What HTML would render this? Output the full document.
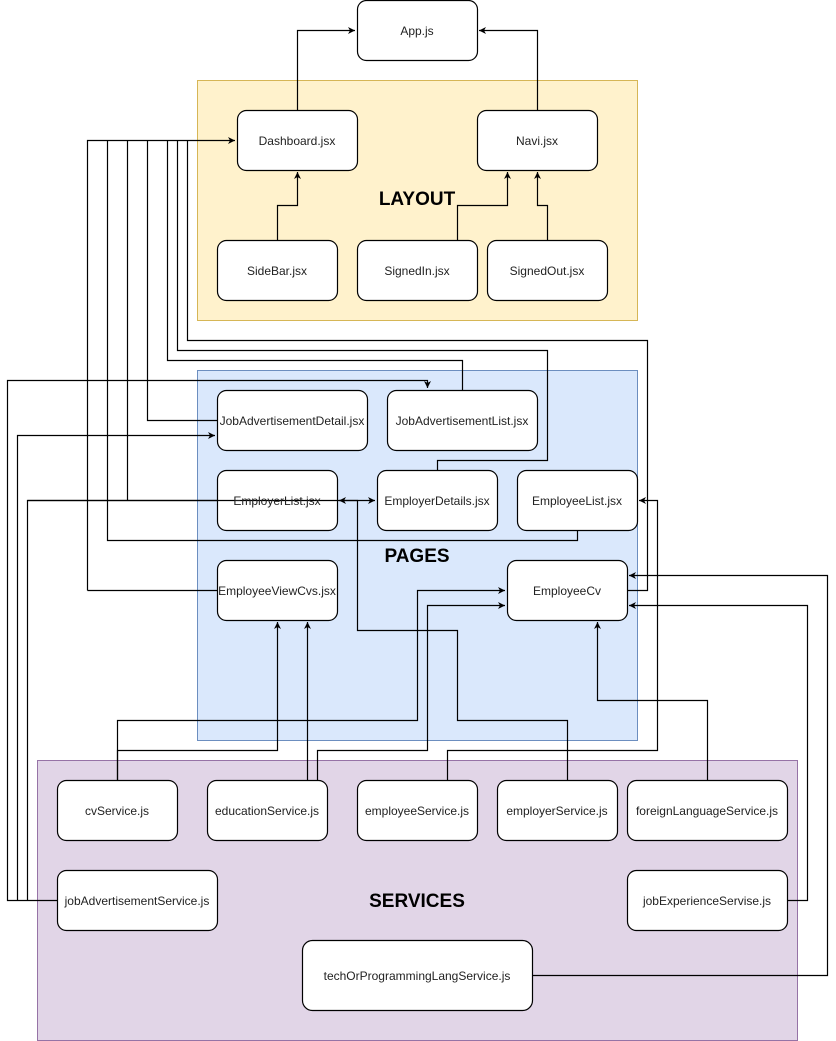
<!DOCTYPE html>
<html><head><meta charset="utf-8"><style>
html,body{margin:0;padding:0;background:#fff;}
svg{display:block;font-family:"Liberation Sans",sans-serif;}
</style></head><body>
<svg width="836" height="1041" viewBox="0 0 836 1041" xmlns="http://www.w3.org/2000/svg">
<defs>
<marker id="a" markerWidth="8" markerHeight="8" refX="7" refY="4" orient="auto" markerUnits="userSpaceOnUse">
<path d="M0,0.5 L7,4 L0,7.5 L2,4 Z" fill="#000"/></marker>
</defs>
<rect x="197.5" y="80.5" width="440" height="240" fill="#fff2cc" stroke="#d6b656"/>
<rect x="197.5" y="370.5" width="440" height="370" fill="#dae8fc" stroke="#6c8ebf"/>
<rect x="37.5" y="760.5" width="760" height="280" fill="#e1d5e7" stroke="#9673a6"/>
<g font-weight="bold" font-size="19" text-anchor="middle" fill="#000">
<text x="417" y="205">LAYOUT</text>
<text x="417" y="562">PAGES</text>
<text x="417" y="907">SERVICES</text>
</g>
<g fill="none" stroke="#000" stroke-width="1.2">
<path d="M297.5 110V30.5H355" marker-end="url(#a)"/>
<path d="M537.5 110V30.5H479" marker-end="url(#a)"/>
<path d="M277.5 240V205.5H297.5V172" marker-end="url(#a)"/>
<path d="M457.5 240V205.5H507.5V172" marker-end="url(#a)"/>
<path d="M547.5 240V205.5H537.5V172" marker-end="url(#a)"/>
<path d="M87.5 590.5V140.5H235" marker-end="url(#a)"/>
<path d="M87.5 590.5H217"/>
<path d="M107.5 140.5V540.5H577.5V530"/>
<path d="M127.5 140.5V500.5"/>
<path d="M147.5 140.5V420.5H217"/>
<path d="M167.5 140.5V360.5H462.5V390"/>
<path d="M177.5 140.5V350.5H547.5V460.5H437.5V470"/>
<path d="M187.5 140.5V340.5H647.5V590.5H627"/>
<path d="M57 900.5H7.5V380.5H427.5V388" marker-end="url(#a)"/>
<path d="M17.5 900.5V435.5H215" marker-end="url(#a)"/>
<path d="M27.5 900.5V500.5H357.5"/>
<path d="M567.5 780V720.5H457.5V630.5H357.5V500.5H339" marker-end="url(#a)"/>
<path d="M357.5 500.5H375" marker-end="url(#a)"/>
<path d="M447.5 780V750.5H657.5V500.5H639" marker-end="url(#a)"/>
<path d="M532 975.5H827.5V575.5H629" marker-end="url(#a)"/>
<path d="M787 900.5H807.5V605.5H629" marker-end="url(#a)"/>
<path d="M707.5 780V700.5H597.5V622" marker-end="url(#a)"/>
<path d="M117.5 780V720.5H417.5V590.5H505" marker-end="url(#a)"/>
<path d="M117.5 780V750.5H277.5V622" marker-end="url(#a)"/>
<path d="M307.5 780V622" marker-end="url(#a)"/>
<path d="M317.5 780V750.5H427.5V605.5H505" marker-end="url(#a)"/>
</g>
<g fill="#fff" stroke="#000" stroke-width="1.2">
<rect x="357.5" y="0.5" width="120" height="60" rx="9"/>
<rect x="237.5" y="110.5" width="120" height="60" rx="9"/>
<rect x="477.5" y="110.5" width="120" height="60" rx="9"/>
<rect x="217.5" y="240.5" width="120" height="60" rx="9"/>
<rect x="357.5" y="240.5" width="120" height="60" rx="9"/>
<rect x="487.5" y="240.5" width="120" height="60" rx="9"/>
<rect x="217.5" y="390.5" width="150" height="60" rx="9"/>
<rect x="387.5" y="390.5" width="150" height="60" rx="9"/>
<rect x="217.5" y="470.5" width="120" height="60" rx="9"/>
<rect x="377.5" y="470.5" width="120" height="60" rx="9"/>
<rect x="517.5" y="470.5" width="120" height="60" rx="9"/>
<rect x="217.5" y="560.5" width="120" height="60" rx="9"/>
<rect x="507.5" y="560.5" width="120" height="60" rx="9"/>
<rect x="57.5" y="780.5" width="120" height="60" rx="9"/>
<rect x="207.5" y="780.5" width="120" height="60" rx="9"/>
<rect x="357.5" y="780.5" width="120" height="60" rx="9"/>
<rect x="497.5" y="780.5" width="120" height="60" rx="9"/>
<rect x="627.5" y="780.5" width="160" height="60" rx="9"/>
<rect x="57.5" y="870.5" width="160" height="60" rx="9"/>
<rect x="627.5" y="870.5" width="160" height="60" rx="9"/>
<rect x="302.5" y="940.5" width="230" height="70" rx="10"/>
</g>
<path d="M27.5 500.5H337" fill="none" stroke="#000" stroke-width="1.2"/>
<g font-size="12" text-anchor="middle" fill="#222">
<text x="417" y="35">App.js</text>
<text x="297" y="145">Dashboard.jsx</text>
<text x="537" y="145">Navi.jsx</text>
<text x="277" y="275">SideBar.jsx</text>
<text x="417" y="275">SignedIn.jsx</text>
<text x="547" y="275">SignedOut.jsx</text>
<text x="292" y="425">JobAdvertisementDetail.jsx</text>
<text x="462" y="425">JobAdvertisementList.jsx</text>
<text x="277" y="505">EmployerList.jsx</text>
<text x="437" y="505">EmployerDetails.jsx</text>
<text x="577" y="505">EmployeeList.jsx</text>
<text x="277" y="595">EmployeeViewCvs.jsx</text>
<text x="567" y="595">EmployeeCv</text>
<text x="117" y="815">cvService.js</text>
<text x="267" y="815">educationService.js</text>
<text x="417" y="815">employeeService.js</text>
<text x="557" y="815">employerService.js</text>
<text x="707" y="815">foreignLanguageService.js</text>
<text x="137" y="905">jobAdvertisementService.js</text>
<text x="707" y="905">jobExperienceServise.js</text>
<text x="417" y="980">techOrProgrammingLangService.js</text>
</g>
</svg>
</body></html>
